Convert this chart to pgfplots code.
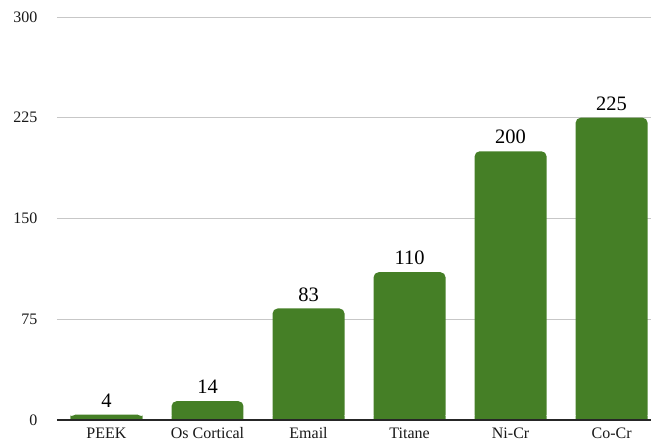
\documentclass[border=0pt]{standalone}
\usepackage{fontspec}
\setmainfont{Liberation Serif}
\usepackage{pgfplots}
\usepackage{pgfplotstable}
\pgfplotsset{compat=1.18}
\definecolor{barg}{HTML}{457F26}
\pgfplotstableread{
x v
0 4
1 14
2 83
3 110
4 200
5 225
}\datatable
\begin{document}
\begin{tikzpicture}
\begin{axis}[
 at={(0,0)}, anchor=south west,
 scale only axis, width=594pt, height=403pt,
 xmin=-0.49, xmax=5.39, ymin=0, ymax=300,
 ytick={0,75,150,225,300},
 xtick={0,...,5}, xticklabels={PEEK,Os Cortical,Email,Titane,Ni-Cr,Co-Cr},
 axis line style={draw=none},
 major tick length=0pt,
 ymajorgrids, grid style={draw=black!22, line width=0.8pt},
 tick label style={font=\fontsize{16}{16}\selectfont, text=black!90},
 /pgf/number format/assume math mode=true,
 yticklabel style={xshift=-16pt},
 xticklabel style={yshift=-4pt},
 clip=false,
]
\addplot[ybar, bar width=0.712, bar shift=0pt, fill=barg, draw=none, rounded corners=5pt,
  nodes near coords, nodes near coords style={font=\fontsize{20.5}{20.5}\selectfont, text=black, rounded corners=0pt, inner sep=7pt}]
  table[x=x, y=v] {\datatable};
\addplot[ybar, bar width=0.712, bar shift=0pt, fill=barg, draw=none, forget plot]
  table[x=x, y expr={min(\thisrow{v},3)}] {\datatable};
\draw[black!85, line width=1.2pt] (axis cs:-0.49,0) -- (axis cs:5.39,0);
\end{axis}
\pgfresetboundingbox
\path (-57pt,-23pt) rectangle (594pt,420pt);
\end{tikzpicture}
\end{document}
